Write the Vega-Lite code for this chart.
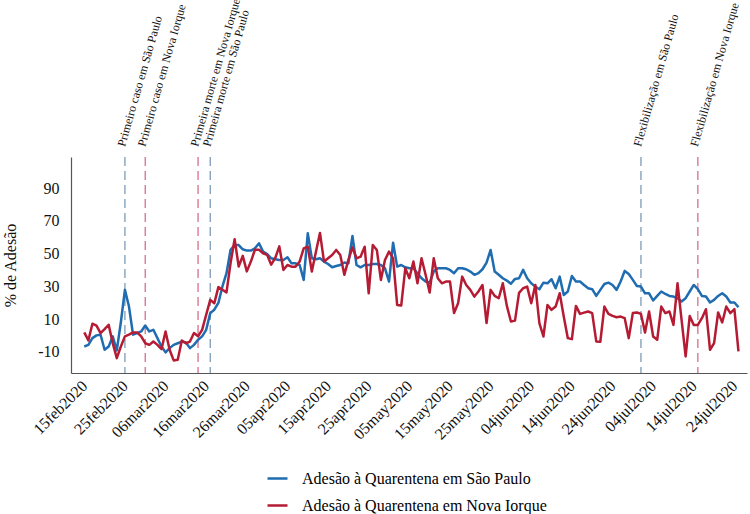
{
  "$schema": "https://vega.github.io/schema/vega-lite/v6.json",
  "width": 676,
  "height": 216,
  "autosize": {"type": "none"},
  "padding": {"left": 71, "top": 157, "right": 3, "bottom": 141},
  "config": {
    "view": {"stroke": null},
    "font": "Liberation Serif",
    "axis": {"grid": false, "domainColor": "#555555", "domainWidth": 1.2, "labelColor": "#111111", "titleColor": "#111111", "labelFont": "Liberation Serif", "titleFont": "Liberation Serif"},
    "legend": {"labelFont": "Liberation Serif"}
  },
  "datasets": {
    "series": [
      {"date":"2020-02-15","sp":-6.8,"ny":1.8},
      {"date":"2020-02-16","sp":-5.8,"ny":-3.1},
      {"date":"2020-02-17","sp":-1.7,"ny":7.1},
      {"date":"2020-02-18","sp":0,"ny":5.9},
      {"date":"2020-02-19","sp":0.4,"ny":1.4},
      {"date":"2020-02-20","sp":-8.8,"ny":3.8},
      {"date":"2020-02-21","sp":-6.8,"ny":6.5},
      {"date":"2020-02-22","sp":-0.6,"ny":-4.8},
      {"date":"2020-02-23","sp":-9.2,"ny":-13.9},
      {"date":"2020-02-24","sp":8,"ny":-6.8},
      {"date":"2020-02-25","sp":27.8,"ny":-0.6},
      {"date":"2020-02-26","sp":17.6,"ny":0.4},
      {"date":"2020-02-27","sp":0.4,"ny":1.8},
      {"date":"2020-02-28","sp":1.4,"ny":1.8},
      {"date":"2020-02-29","sp":2.4,"ny":-0.6},
      {"date":"2020-03-01","sp":6.0,"ny":-4.8},
      {"date":"2020-03-02","sp":2.4,"ny":-5.8},
      {"date":"2020-03-03","sp":3.4,"ny":-3.8},
      {"date":"2020-03-04","sp":-1.7,"ny":-5.8},
      {"date":"2020-03-05","sp":-6.8,"ny":-8.4},
      {"date":"2020-03-06","sp":-10.4,"ny":2.4},
      {"date":"2020-03-07","sp":-7.8,"ny":-8.8},
      {"date":"2020-03-08","sp":-5.8,"ny":-15.3},
      {"date":"2020-03-09","sp":-4.8,"ny":-14.9},
      {"date":"2020-03-10","sp":-3.8,"ny":-3.1},
      {"date":"2020-03-11","sp":-4.4,"ny":-4.8},
      {"date":"2020-03-12","sp":-7.8,"ny":-3.8},
      {"date":"2020-03-13","sp":-5.8,"ny":1.4},
      {"date":"2020-03-14","sp":-2.7,"ny":-0.6},
      {"date":"2020-03-15","sp":-0.6,"ny":3.4},
      {"date":"2020-03-16","sp":3.4,"ny":12.6},
      {"date":"2020-03-17","sp":13.6,"ny":21.7},
      {"date":"2020-03-18","sp":15.7,"ny":19.6},
      {"date":"2020-03-19","sp":19.8,"ny":29.5},
      {"date":"2020-03-20","sp":29.9,"ny":27.9},
      {"date":"2020-03-21","sp":38.0,"ny":26.3},
      {"date":"2020-03-22","sp":52.3,"ny":44.2},
      {"date":"2020-03-23","sp":55.2,"ny":58.8},
      {"date":"2020-03-24","sp":55.2,"ny":42.1},
      {"date":"2020-03-25","sp":52.6,"ny":48.6},
      {"date":"2020-03-26","sp":51.8,"ny":39.1},
      {"date":"2020-03-27","sp":51.8,"ny":45.1},
      {"date":"2020-03-28","sp":53.2,"ny":52.3},
      {"date":"2020-03-29","sp":56.3,"ny":52.3},
      {"date":"2020-03-30","sp":51.2,"ny":50.2},
      {"date":"2020-03-31","sp":49.7,"ny":49.2},
      {"date":"2020-04-01","sp":47.1,"ny":43.2},
      {"date":"2020-04-02","sp":46.5,"ny":47.3},
      {"date":"2020-04-03","sp":46.1,"ny":54.4},
      {"date":"2020-04-04","sp":46.1,"ny":40.0},
      {"date":"2020-04-05","sp":47.7,"ny":43.0},
      {"date":"2020-04-06","sp":44.0,"ny":42.0},
      {"date":"2020-04-07","sp":44.0,"ny":42.0},
      {"date":"2020-04-08","sp":43.0,"ny":45.1},
      {"date":"2020-04-09","sp":33.9,"ny":53.2},
      {"date":"2020-04-10","sp":62.4,"ny":54.2},
      {"date":"2020-04-11","sp":47.1,"ny":39.0},
      {"date":"2020-04-12","sp":46.5,"ny":51.0},
      {"date":"2020-04-13","sp":47.1,"ny":62.6},
      {"date":"2020-04-14","sp":45.1,"ny":45.1},
      {"date":"2020-04-15","sp":43.6,"ny":47.1},
      {"date":"2020-04-16","sp":41.6,"ny":49.1},
      {"date":"2020-04-17","sp":42.4,"ny":52.2},
      {"date":"2020-04-18","sp":43.0,"ny":49.1},
      {"date":"2020-04-19","sp":44.5,"ny":37.0},
      {"date":"2020-04-20","sp":44.0,"ny":46.1},
      {"date":"2020-04-21","sp":60.7,"ny":53.8},
      {"date":"2020-04-22","sp":43.0,"ny":47.1},
      {"date":"2020-04-23","sp":41.6,"ny":48.1},
      {"date":"2020-04-24","sp":43.0,"ny":54.2},
      {"date":"2020-04-25","sp":43.0,"ny":25.7},
      {"date":"2020-04-26","sp":43.6,"ny":55.2},
      {"date":"2020-04-27","sp":43.6,"ny":52.2},
      {"date":"2020-04-28","sp":43.0,"ny":33.9},
      {"date":"2020-04-29","sp":41.0,"ny":46.1},
      {"date":"2020-04-30","sp":32.9,"ny":51.2},
      {"date":"2020-05-01","sp":56.6,"ny":47.1},
      {"date":"2020-05-02","sp":42.0,"ny":18.6},
      {"date":"2020-05-03","sp":43.0,"ny":18.2},
      {"date":"2020-05-04","sp":41.6,"ny":41.0},
      {"date":"2020-05-05","sp":41.0,"ny":34.9},
      {"date":"2020-05-06","sp":41.0,"ny":45.1},
      {"date":"2020-05-07","sp":38.0,"ny":31.8},
      {"date":"2020-05-08","sp":34.9,"ny":47.1},
      {"date":"2020-05-09","sp":32.9,"ny":37.0},
      {"date":"2020-05-10","sp":32.2,"ny":26.2},
      {"date":"2020-05-11","sp":39.0,"ny":47.1},
      {"date":"2020-05-12","sp":41.0,"ny":34.9},
      {"date":"2020-05-13","sp":41.0,"ny":31.8},
      {"date":"2020-05-14","sp":41.0,"ny":32.9},
      {"date":"2020-05-15","sp":40.0,"ny":32.9},
      {"date":"2020-05-16","sp":38.0,"ny":13.6},
      {"date":"2020-05-17","sp":41.0,"ny":19.6},
      {"date":"2020-05-18","sp":41.0,"ny":35.9},
      {"date":"2020-05-19","sp":40.4,"ny":30.8},
      {"date":"2020-05-20","sp":39.0,"ny":27.8},
      {"date":"2020-05-21","sp":37.0,"ny":23.7},
      {"date":"2020-05-22","sp":38.0,"ny":26.8},
      {"date":"2020-05-23","sp":40.4,"ny":30.8},
      {"date":"2020-05-24","sp":44.5,"ny":7.5},
      {"date":"2020-05-25","sp":52.2,"ny":27.8},
      {"date":"2020-05-26","sp":39.0,"ny":24.1},
      {"date":"2020-05-27","sp":37.0,"ny":22.7},
      {"date":"2020-05-28","sp":34.9,"ny":31.8},
      {"date":"2020-05-29","sp":33.5,"ny":18.0},
      {"date":"2020-05-30","sp":31.5,"ny":8.5},
      {"date":"2020-05-31","sp":34.5,"ny":9.0},
      {"date":"2020-06-01","sp":34.9,"ny":26.0},
      {"date":"2020-06-02","sp":40.0,"ny":28.8},
      {"date":"2020-06-03","sp":34.9,"ny":29.8},
      {"date":"2020-06-04","sp":31.8,"ny":19.6},
      {"date":"2020-06-05","sp":29.8,"ny":30.8},
      {"date":"2020-06-06","sp":28.2,"ny":7.5},
      {"date":"2020-06-07","sp":32.2,"ny":-0.7},
      {"date":"2020-06-08","sp":31.8,"ny":18.6},
      {"date":"2020-06-09","sp":34.3,"ny":15.6},
      {"date":"2020-06-10","sp":28.8,"ny":17.6},
      {"date":"2020-06-11","sp":35.9,"ny":25.7},
      {"date":"2020-06-12","sp":24.7,"ny":11.5},
      {"date":"2020-06-13","sp":26.8,"ny":-1.7},
      {"date":"2020-06-14","sp":36.3,"ny":-2.3},
      {"date":"2020-06-15","sp":32.9,"ny":18.0},
      {"date":"2020-06-16","sp":32.9,"ny":13.1},
      {"date":"2020-06-17","sp":30.8,"ny":13.9},
      {"date":"2020-06-18","sp":28.8,"ny":14.6},
      {"date":"2020-06-19","sp":28.2,"ny":13.6},
      {"date":"2020-06-20","sp":24.1,"ny":-3.7},
      {"date":"2020-06-21","sp":27.8,"ny":-3.9},
      {"date":"2020-06-22","sp":31.4,"ny":17.6},
      {"date":"2020-06-23","sp":32.2,"ny":13.1},
      {"date":"2020-06-24","sp":30.8,"ny":11.9},
      {"date":"2020-06-25","sp":27.8,"ny":11.1},
      {"date":"2020-06-26","sp":32.9,"ny":11.5},
      {"date":"2020-06-27","sp":39.4,"ny":10.5},
      {"date":"2020-06-28","sp":37.5,"ny":-1.7},
      {"date":"2020-06-29","sp":33.9,"ny":13.6},
      {"date":"2020-06-30","sp":30.2,"ny":14.0},
      {"date":"2020-07-01","sp":29.8,"ny":13.1},
      {"date":"2020-07-02","sp":25.7,"ny":1.8},
      {"date":"2020-07-03","sp":25.7,"ny":14.6},
      {"date":"2020-07-04","sp":21.3,"ny":-0.7},
      {"date":"2020-07-05","sp":24.1,"ny":-2.7},
      {"date":"2020-07-06","sp":26.8,"ny":17.6},
      {"date":"2020-07-07","sp":25.3,"ny":13.6},
      {"date":"2020-07-08","sp":24.1,"ny":14.6},
      {"date":"2020-07-09","sp":23.7,"ny":6.4},
      {"date":"2020-07-10","sp":22.7,"ny":31.8},
      {"date":"2020-07-11","sp":20.7,"ny":9.5},
      {"date":"2020-07-12","sp":22.7,"ny":-12.9},
      {"date":"2020-07-13","sp":26.8,"ny":11.9},
      {"date":"2020-07-14","sp":30.8,"ny":6.4},
      {"date":"2020-07-15","sp":28.2,"ny":6.4},
      {"date":"2020-07-16","sp":24.1,"ny":10.5},
      {"date":"2020-07-17","sp":23.7,"ny":16.0},
      {"date":"2020-07-18","sp":20.1,"ny":-8.8},
      {"date":"2020-07-19","sp":21.7,"ny":-4.7},
      {"date":"2020-07-20","sp":24.1,"ny":14.0},
      {"date":"2020-07-21","sp":25.7,"ny":7.9},
      {"date":"2020-07-22","sp":23.7,"ny":17.6},
      {"date":"2020-07-23","sp":20.1,"ny":13.6},
      {"date":"2020-07-24","sp":20.1,"ny":16.0},
      {"date":"2020-07-25","sp":17.2,"ny":-9.8}
    ],
    "events": [
      {"date":"2020-02-25","label":"Primeiro caso em São Paulo","city":"sp"},
      {"date":"2020-03-01","label":"Primeiro caso em Nova Iorque","city":"ny"},
      {"date":"2020-03-14","label":"Primeira morte em Nova Iorque","city":"ny"},
      {"date":"2020-03-17","label":"Primeira morte em São Paulo","city":"sp"},
      {"date":"2020-07-01","label":"Flexibilização em São Paulo","city":"sp"},
      {"date":"2020-07-15","label":"Flexibilização em Nova Iorque","city":"ny"}
    ]
  },
  "encoding": {
    "x": {
      "field": "date",
      "type": "temporal",
      "scale": {"type": "utc", "domain": [1581442272000, 1595816640000], "nice": false},
      "axis": {
        "title": null,
        "values": [1581724800000,1582588800000,1583452800000,1584316800000,1585180800000,1586044800000,1586908800000,1587772800000,1588636800000,1589500800000,1590364800000,1591228800000,1592092800000,1592956800000,1593820800000,1594684800000,1595548800000],
        "labelExpr": "lower(utcFormat(datum.value, '%d%b%Y'))",
        "labelAngle": -45,
        "labelAlign": "right",
        "labelBaseline": "middle",
        "labelPadding": 10,
        "labelFontSize": 16,
        "ticks": false,
        "labelOverlap": false,
        "labelFlush": false
      }
    }
  },
  "layer": [
    {
      "data": {"name": "events"},
      "transform": [{"filter": "datum.city == 'sp'"}],
      "mark": {"type": "rule", "stroke": "#7d9bb6", "strokeWidth": 1.3, "strokeDash": [9, 5]},
      "encoding": {}
    },
    {
      "data": {"name": "events"},
      "transform": [{"filter": "datum.city == 'ny'"}],
      "mark": {"type": "rule", "stroke": "#d6708a", "strokeWidth": 1.3, "strokeDash": [9, 5]},
      "encoding": {}
    },
    {
      "data": {"name": "series"},
      "transform": [{"fold": ["sp", "ny"], "as": ["city", "value"]}],
      "mark": {"type": "line", "strokeWidth": 2.5, "strokeJoin": "round"},
      "encoding": {
        "y": {
          "field": "value",
          "type": "quantitative",
          "scale": {"domain": [-23, 109], "nice": false, "zero": false},
          "axis": {
            "title": "% de Adesão",
            "titleFontSize": 16,
            "titleFontWeight": "normal",
            "titlePadding": 19,
            "values": [-10, 10, 30, 50, 70, 90],
            "labelExpr": "toString(datum.value)",
            "labelFontSize": 16,
            "labelPadding": 12,
            "ticks": false
          }
        },
        "color": {
          "field": "city",
          "type": "nominal",
          "scale": {"domain": ["sp", "ny"], "range": ["#1f6cb0", "#b51b33"]},
          "legend": {
            "title": null,
            "orient": "none",
            "legendX": 195,
            "legendY": 310,
            "direction": "vertical",
            "symbolType": "stroke",
            "symbolSize": 400,
            "symbolStrokeWidth": 2.5,
            "labelFontSize": 16,
            "labelLimit": 500,
            "labelOffset": 13,
            "rowPadding": 7,
            "padding": 0,
            "labelExpr": "datum.value == 'sp' ? 'Adesão à Quarentena em São Paulo' : 'Adesão à Quarentena em Nova Iorque'"
          }
        }
      }
    },
    {
      "data": {"name": "events"},
      "mark": {"type": "text", "angle": -74, "align": "left", "baseline": "alphabetic", "fontSize": 12, "font": "Liberation Serif", "color": "#111111"},
      "encoding": {
        "y": {"datum": 115, "type": "quantitative"},
        "text": {"field": "label"}
      }
    }
  ]
}
